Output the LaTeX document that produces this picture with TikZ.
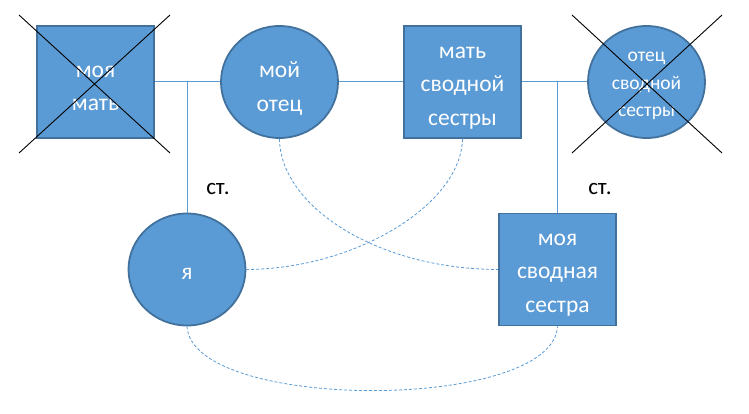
\documentclass[tikz,border=0pt]{standalone}
\usepackage{fontspec}
\setmainfont{Carlito}
\usetikzlibrary{shapes.geometric}
\definecolor{ofill}{HTML}{5B9BD5}
\definecolor{oedge}{HTML}{41719C}
\begin{document}
\begin{tikzpicture}[x=1pt,y=-1pt,
  box/.style={draw=oedge,line width=1.8pt,fill=ofill,
    minimum width=117pt,minimum height=112pt,inner sep=0pt},
  oval/.style={box,ellipse},
  txt/.style={text=white,align=center,inner sep=0pt,
    font=\fontsize{23.5}{33.5}\selectfont},
  smalltxt/.style={txt,font=\fontsize{19.5}{27.5}\selectfont},
  link/.style={draw=ofill,line width=1pt},
  kin/.style={draw=ofill,line width=0.8pt,dash pattern=on 3pt off 2pt},
  cross/.style={draw=black,line width=0.9pt},
  lbl/.style={text=black,font=\fontsize{23}{28}\selectfont,inner sep=0pt}]
\useasboundingbox (0,0) rectangle (749,414);
\node[box]  (mother) at (95.5,82) {};
\node[oval] (father) at (279.5,82) {};
\node[box]  (smother) at (462.5,82) {};
\node[oval] (sfather) at (646.5,82) {};
\node[oval] (me) at (187,269.5) {};
\node[box]  (sister) at (557.5,269.5) {};
\node[txt] (mother-t) at ([yshift=-6.5pt]mother.center) {моя\\мать};
\node[txt] (father-t) at ([yshift=-6.5pt]father.center) {мой\\отец};
\node[txt] (smother-t) at ([yshift=-6pt]smother.center) {мать\\сводной\\сестры};
\node[smalltxt] (sfather-t) at ([yshift=-4pt]sfather.center) {отец\\сводной\\сестры};
\node[txt] (me-t) at ([yshift=-4pt]me.center) {я};
\node[txt] (sister-t) at ([yshift=-5.5pt]sister.center) {моя\\сводная\\сестра};
\node[lbl] (st1) at (218,189) {ст.};
\node[lbl] (st2) at (600,189) {ст.};
% crosses
\coordinate (m1) at (19,15); \coordinate (m2) at (170,153);
\coordinate (m3) at (170,15); \coordinate (m4) at (19,153);
\draw[cross] (m1) -- (m2); \draw[cross] (m3) -- (m4);
\coordinate (f1) at (572,15); \coordinate (f2) at (722,153);
\coordinate (f3) at (722,15); \coordinate (f4) at (572,153);
\draw[cross] (f1) -- (f2); \draw[cross] (f3) -- (f4);
% marriage lines
\draw[link] (mother.east) -- (father.west);
\draw[link] (father.east) -- (smother.west);
\draw[link] (smother.east) -- (sfather.west);
\coordinate (j1) at (me.north |- mother.east);
\coordinate (j2) at (sister.north |- smother.east);
\draw[link] (j1) -- (me.north);
\draw[link] (j2) -- (sister.north);
% dashed relations
\draw[kin] (father.south) .. controls (280,205) and (375,269) .. (sister.west);
\draw[kin] (smother.south) .. controls (461,205) and (355,269) .. (me.east);
\draw[kin] (me.south) .. controls (192,412) and (553,412) .. (sister.south);
\end{tikzpicture}
\end{document}
